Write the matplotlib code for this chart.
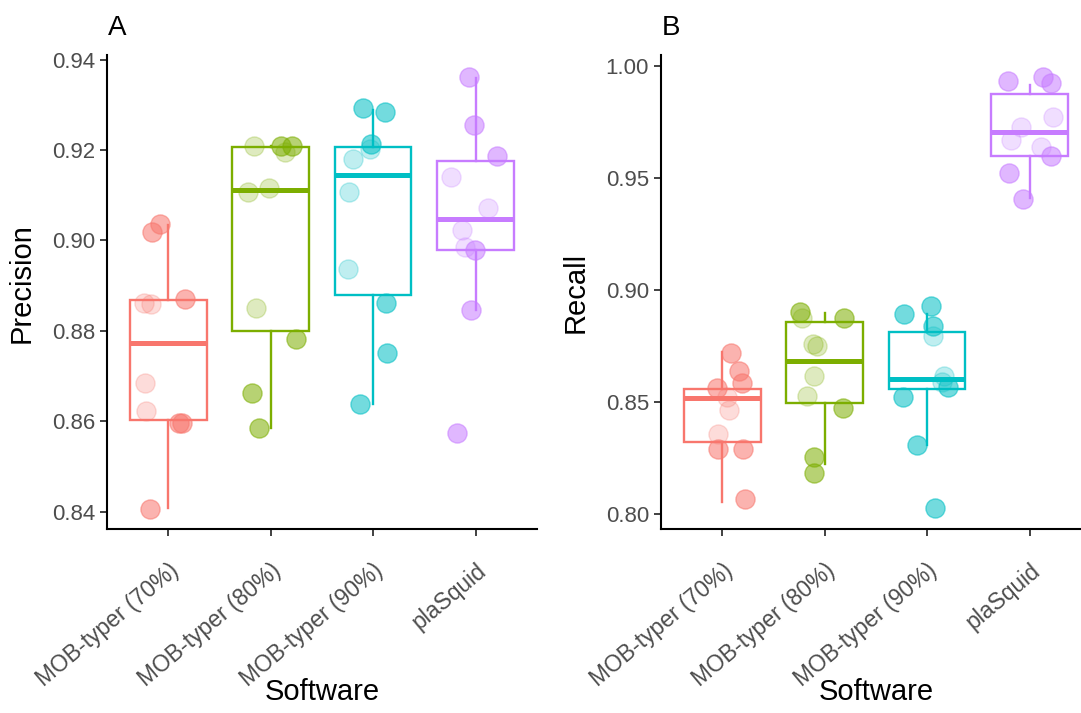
import matplotlib
matplotlib.use('Agg')
import matplotlib.pyplot as plt
import matplotlib.transforms as mtransforms

plt.rcParams['font.family'] = ['Liberation Sans', 'DejaVu Sans']

SOFTWARE = ['MOB-typer (70%)', 'MOB-typer (80%)', 'MOB-typer (90%)', 'plaSquid']
COLORS = ['#F8766D', '#7CAE00', '#00BFC4', '#C77CFF']

# per-replicate scores, one list per software
precision_vals = [
    [0.9036, 0.9019, 0.8861, 0.8859, 0.8870, 0.8685, 0.8622, 0.8597, 0.8597, 0.8407],
    [0.9209, 0.9209, 0.9209, 0.9196, 0.9108, 0.9115, 0.8851, 0.8783, 0.8663, 0.8586],
    [0.9292, 0.9285, 0.9213, 0.9201, 0.9181, 0.9106, 0.8937, 0.8861, 0.8751, 0.8639],
    [0.9361, 0.9255, 0.9187, 0.9141, 0.9071, 0.9023, 0.8986, 0.8979, 0.8847, 0.8573],
]
recall_vals = [
    [0.8718, 0.8639, 0.8584, 0.8562, 0.8524, 0.8465, 0.8357, 0.8290, 0.8292, 0.8068],
    [0.8903, 0.8874, 0.8877, 0.8759, 0.8750, 0.8618, 0.8527, 0.8475, 0.8254, 0.8185],
    [0.8893, 0.8929, 0.8839, 0.8796, 0.8617, 0.8591, 0.8566, 0.8524, 0.8309, 0.8027],
    [0.9932, 0.9951, 0.9922, 0.9770, 0.9728, 0.9669, 0.9639, 0.9597, 0.9520, 0.9406],
]

# horizontal jitter of each point (category units)
precision_jitter = [
    [-0.081, -0.156, -0.234, -0.172, 0.169, -0.224, -0.221, 0.104, 0.137, -0.182],
    [-0.161, 0.099, 0.213, 0.145, -0.223, -0.011, -0.145, 0.246, -0.177, -0.115],
    [-0.094, 0.117, -0.016, -0.026, -0.195, -0.237, -0.241, 0.124, 0.140, -0.127],
    [-0.063, -0.011, 0.210, -0.239, 0.122, -0.128, -0.102, -0.005, -0.044, -0.184],
]
recall_jitter = [
    [0.091, 0.163, 0.195, -0.049, 0.049, 0.065, -0.039, -0.039, 0.205, 0.221],
    [-0.242, -0.220, 0.193, -0.112, -0.073, -0.099, -0.171, 0.180, -0.099, -0.099],
    [-0.228, 0.039, 0.055, 0.059, 0.163, 0.146, 0.202, -0.234, -0.098, 0.081],
    [-0.213, 0.128, 0.213, 0.226, -0.080, -0.177, 0.115, 0.210, -0.203, -0.063],
]

# faded points (1) vs solid points (0)
precision_faded = [
    [0, 0, 1, 1, 0, 1, 1, 0, 0, 0],
    [1, 0, 0, 1, 1, 1, 1, 0, 0, 0],
    [0, 0, 0, 1, 1, 1, 1, 0, 0, 0],
    [0, 0, 0, 1, 1, 1, 1, 0, 0, 0],
]
recall_faded = [
    [0, 0, 0, 0, 1, 1, 1, 0, 0, 0],
    [0, 1, 0, 1, 1, 1, 1, 0, 0, 0],
    [0, 0, 0, 1, 1, 1, 0, 0, 0, 0],
    [0, 0, 0, 1, 1, 1, 1, 0, 0, 0],
]

# box summaries: q1, median, q3, lower whisker, upper whisker
precision_box = [
    [0.8603, 0.8772, 0.8868, 0.8409, 0.9034],
    [0.8799, 0.9111, 0.9207, 0.8586, 0.9209],
    [0.8879, 0.9144, 0.9207, 0.8639, 0.9288],
    [0.8979, 0.9047, 0.9175, 0.8847, 0.9360],
]
recall_box = [
    [0.8324, 0.8517, 0.8557, 0.8054, 0.8725],
    [0.8495, 0.8685, 0.8856, 0.8223, 0.8896],
    [0.8559, 0.8602, 0.8811, 0.8309, 0.8893],
    [0.9597, 0.9706, 0.9874, 0.9409, 0.9914],
]


def draw_panel(ax, vals, jitter, faded, boxes, ylabel, yticks, ylim, label_y=0.5):
    for i, color in enumerate(COLORS):
        q1, med, q3, lo, hi = boxes[i]
        stats = [dict(q1=q1, med=med, q3=q3, whislo=lo, whishi=hi, fliers=[])]
        ax.bxp(stats, positions=[i + 1], widths=0.75, showcaps=False,
               showfliers=False, patch_artist=True,
               boxprops=dict(facecolor='white', edgecolor=color, linewidth=1.7),
               whiskerprops=dict(color=color, linewidth=1.7),
               medianprops=dict(color=color, linewidth=3.6, solid_capstyle='butt'))
        xs = [i + 1 + j for j in jitter[i]]
        for x, y, f in zip(xs, vals[i], faded[i]):
            a = 0.25 if f else 0.55
            ax.scatter(x, y, s=190, color=color, alpha=a, edgecolors=color,
                       linewidths=1.0, zorder=3)

    ax.set_xlim(0.4, 4.6)
    ax.set_ylim(*ylim)
    ax.set_yticks(yticks)
    ax.set_yticklabels([f'{t:.2f}' for t in yticks])
    ax.set_xticks(range(1, 5))
    ax.set_xticklabels([])

    for side in ['top', 'right']:
        ax.spines[side].set_visible(False)
    for side in ['left', 'bottom']:
        ax.spines[side].set_linewidth(1.5)
        ax.spines[side].set_color('black')
    ax.tick_params(axis='both', length=5, width=1.3, color='#333333',
                   labelsize=16, labelcolor='#4D4D4D')
    ax.tick_params(axis='y', pad=3.5)

    # rotated category names under the ticks
    shift = mtransforms.ScaledTranslation(0, -30 / 100, ax.figure.dpi_scale_trans)
    for i, name in enumerate(SOFTWARE):
        ax.text(i + 1, 0, name, transform=ax.get_xaxis_transform() + shift,
                rotation=40, rotation_mode='anchor', ha='right', va='top',
                fontsize=16.5, color='#4D4D4D')

    ax.set_ylabel(ylabel, fontsize=21, va='center')
    ax.yaxis.set_label_coords(-84.7 / 430, label_y)
    ax.set_xlabel('Software', fontsize=21, va='center')
    ax.xaxis.set_label_coords(0.5, -163 / 473.6)


fig = plt.figure(figsize=(10.81, 7.13), dpi=100)
ax_a = fig.add_axes([106.7 / 1081, 1 - 529 / 713, 430.3 / 1081, 473.6 / 713])
ax_b = fig.add_axes([660.7 / 1081, 1 - 529 / 713, 430.3 / 1081, 473.6 / 713])

draw_panel(ax_a, precision_vals, precision_jitter, precision_faded, precision_box,
           'Precision', [0.84, 0.86, 0.88, 0.90, 0.92, 0.94], (0.83617, 0.94091), 0.52)
draw_panel(ax_b, recall_vals, recall_jitter, recall_faded, recall_box,
           'Recall', [0.80, 0.85, 0.90, 0.95, 1.00], (0.79345, 1.00459))

fig.text(108 / 1081, 1 - 35 / 713, 'A', fontsize=20, ha='left', va='baseline')
fig.text(662 / 1081, 1 - 35 / 713, 'B', fontsize=20, ha='left', va='baseline')

fig.savefig('out.png', dpi=100)
